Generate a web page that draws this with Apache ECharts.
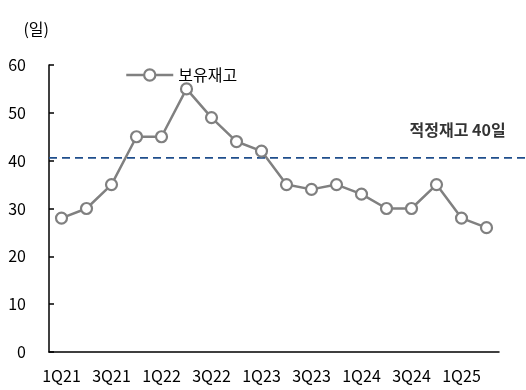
<!DOCTYPE html>
<html>
<head>
<meta charset="utf-8">
<script src="https://cdn.jsdelivr.net/npm/echarts@6/dist/echarts.min.js"></script>
<style>
html,body{margin:0;padding:0;background:#fff;}
#chart{width:526px;height:390px;}
</style>
</head>
<body>
<div id="chart"></div>
<script>
const categories = ['1Q21','2Q21','3Q21','4Q21','1Q22','2Q22','3Q22','4Q22','1Q23','2Q23','3Q23','4Q23','1Q24','2Q24','3Q24','4Q24','1Q25','2Q25'];
const inventoryDays = [28,30,35,45,45,55,49,44,42,35,34,35,33,30,30,35,28,26];
const targetLevel = 40.6;
const seriesName = '보유재고';
const targetLabel = '적정재고 40일';
const yUnit = '(일)';

const FONT = '"Noto Sans CJK KR", "Noto Sans", sans-serif';
const chart = echarts.init(document.getElementById('chart'));
chart.setOption({
  animation: false,
  backgroundColor: '#fff',
  textStyle: { fontFamily: FONT },
  legend: {
    left: 120, top: 62,
    itemWidth: 47, itemHeight: 14, itemGap: 6,
    data: [{ name: seriesName, lineStyle: { width: 2.5, color: '#808080' }, itemStyle: { borderWidth: 2.2, borderColor: '#808080', color: '#fff' } }],
    textStyle: { fontSize: 16, color: '#000', fontFamily: FONT }
  },
  grid: [
    { left: 49, right: 27, top: 65, bottom: 38 },
    { left: 49, right: 0, top: 65, bottom: 38 }
  ],
  xAxis: [{
    type: 'category', data: categories, gridIndex: 0,
    axisLine: { lineStyle: { color: '#000', width: 1.5 } },
    axisTick: { inside: true, length: 5, interval: 0, lineStyle: { color: '#000', width: 1.5 } },
    axisLabel: { interval: 1, margin: 16, fontSize: 16, color: '#000', fontFamily: FONT },
    splitLine: { show: false }
  }, {
    type: 'value', gridIndex: 1, min: 0, max: 1, show: false
  }],
  yAxis: [{
    type: 'value', min: 0, max: 60, interval: 10, gridIndex: 0,
    name: yUnit, nameLocation: 'end', nameGap: 28,
    nameTextStyle: { fontSize: 16, color: '#000', align: 'right', fontFamily: FONT },
    axisLine: { show: true, lineStyle: { color: '#000', width: 1.5 } },
    axisTick: { show: true, inside: true, length: 5, lineStyle: { color: '#000', width: 1.5 } },
    axisLabel: { margin: 23, fontSize: 16, color: '#000', fontFamily: FONT },
    splitLine: { show: false }
  }, {
    type: 'value', min: 0, max: 60, gridIndex: 1, show: false
  }],
  series: [{
    name: seriesName, type: 'line', xAxisIndex: 0, yAxisIndex: 0,
    data: inventoryDays,
    symbol: 'circle', symbolSize: 11,
    lineStyle: { color: '#808080', width: 2.5 },
    itemStyle: { color: '#fff', borderColor: '#808080', borderWidth: 2.2 },
    z: 3
  }, {
    name: 'target', type: 'line', xAxisIndex: 1, yAxisIndex: 1,
    data: [[0, targetLevel], [1, targetLevel]],
    symbol: 'none', silent: true,
    lineStyle: { color: '#1f4e8c', width: 1.8, type: [8, 5] },
    z: 2
  }, {
    name: 'targetLabel', type: 'scatter', xAxisIndex: 1, yAxisIndex: 1,
    data: [[0.756, targetLevel]],
    symbolSize: 0, silent: true,
    label: { show: true, position: 'right', distance: 0, formatter: targetLabel, offset: [0, -28], fontSize: 16, fontWeight: 'bold', color: '#000', fontFamily: FONT },
    z: 4
  }]
});
</script>
</body>
</html>
